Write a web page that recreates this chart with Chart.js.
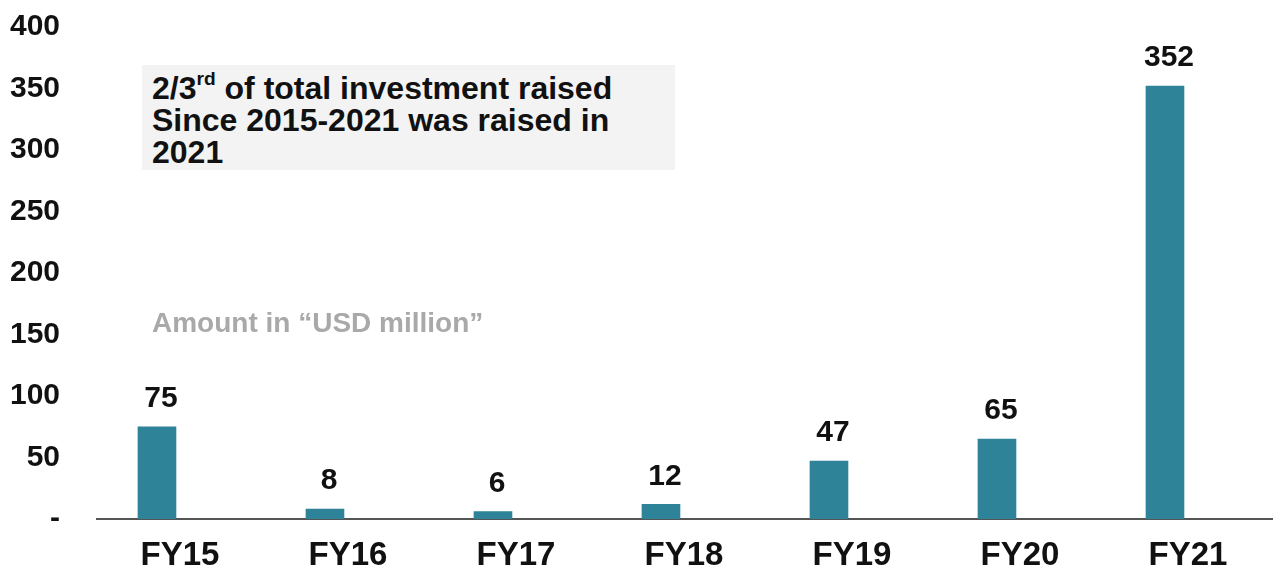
<!DOCTYPE html>
<html>
<head>
<meta charset="utf-8">
<script src="https://cdn.jsdelivr.net/npm/chart.js@4/dist/chart.umd.min.js"></script>
<style>
  html, body { margin: 0; padding: 0; background: #ffffff; }
  #wrap { position: relative; width: 1277px; height: 570px; overflow: hidden; }
  canvas { position: absolute; left: 0; top: 0; }
  .callout {
    position: absolute; left: 142px; top: 65px; width: 533px; height: 105px;
    box-sizing: border-box; padding: 7px 0 0 10px;
    background: #f3f3f3;
    font-family: "Liberation Sans", Arial, Helvetica, sans-serif;
    font-weight: bold; font-size: 32px; line-height: 32px; color: #111111;
  }
  .callout sup { font-size: 0.6em; line-height: 0; vertical-align: 0.75em; }
  .unit {
    position: absolute; left: 152px; top: 306px;
    font-family: "Liberation Sans", Arial, Helvetica, sans-serif;
    font-weight: bold; font-size: 28px; line-height: 34px; color: #a9a9a9;
    filter: blur(0.6px); white-space: nowrap;
  }
</style>
</head>
<body>
<div id="wrap">
  <canvas id="chart" width="1277" height="570"></canvas>
  <div class="callout">2/3<sup>rd</sup> of total investment raised<br>Since 2015-2021 was raised in<br>2021</div>
  <div class="unit">Amount in “USD million”</div>
</div>
<script>
// Fiscal years and amount raised (USD million)
const categories = ['FY15', 'FY16', 'FY17', 'FY18', 'FY19', 'FY20', 'FY21'];
const amounts = [75, 8, 6, 12, 47, 65, 352];
const yTicks = [0, 50, 100, 150, 200, 250, 300, 350, 400];

const FONT = '"Liberation Sans", Arial, Helvetica, sans-serif';
const BAR_COLOR = '#2f8399';

// Writes each bar's value just above it
const valueLabels = {
  id: 'valueLabels',
  afterDatasetsDraw(chart) {
    const ctx = chart.ctx;
    const meta = chart.getDatasetMeta(0);
    ctx.save();
    ctx.font = 'bold 30px ' + FONT;
    ctx.fillStyle = '#111111';
    ctx.textAlign = 'center';
    ctx.textBaseline = 'middle';
    meta.data.forEach((bar, i) => {
      const v = chart.data.datasets[0].data[i].y;
      ctx.fillText(String(v), bar.x + 4, bar.y - 28);
    });
    ctx.restore();
  }
};

new Chart(document.getElementById('chart'), {
  type: 'bar',
  data: {
    datasets: [{
      data: categories.map((c, i) => ({ x: i, y: amounts[i] })),
      backgroundColor: BAR_COLOR,
      borderWidth: 0,
      barThickness: 38
    }]
  },
  options: {
    responsive: false,
    animation: false,
    devicePixelRatio: 1,
    layout: { padding: { top: 27, right: 5, bottom: 0, left: 0 } },
    plugins: { legend: { display: false }, tooltip: { enabled: false } },
    scales: {
      x: {
        type: 'linear',
        offset: false,
        min: -0.357,
        max: 6.637,
        grid: { display: false, drawTicks: false },
        border: { display: true, color: '#555555', width: 2 },
        afterBuildTicks: s => { s.ticks = categories.map((c, i) => ({ value: i })); },
        afterFit: s => { s.height = 51; s.paddingLeft = 0; s.paddingRight = 0; },
        ticks: {
          padding: 17,
          labelOffset: 23,
          color: '#111111',
          font: { family: FONT, size: 33, weight: 'bold' },
          callback: v => categories[v] ?? ''
        }
      },
      y: {
        min: 0,
        max: 400,
        grid: { display: false, drawTicks: false },
        border: { display: false },
        afterBuildTicks: s => { s.ticks = yTicks.map(v => ({ value: v })); },
        afterFit: s => { s.width = 97; s.paddingTop = 0; s.paddingBottom = 0; },
        ticks: {
          padding: 37,
          color: '#111111',
          font: { family: FONT, size: 30, weight: 'bold' },
          callback: v => (v === 0 ? '-' : String(v))
        }
      }
    }
  },
  plugins: [valueLabels]
});
</script>
</body>
</html>
